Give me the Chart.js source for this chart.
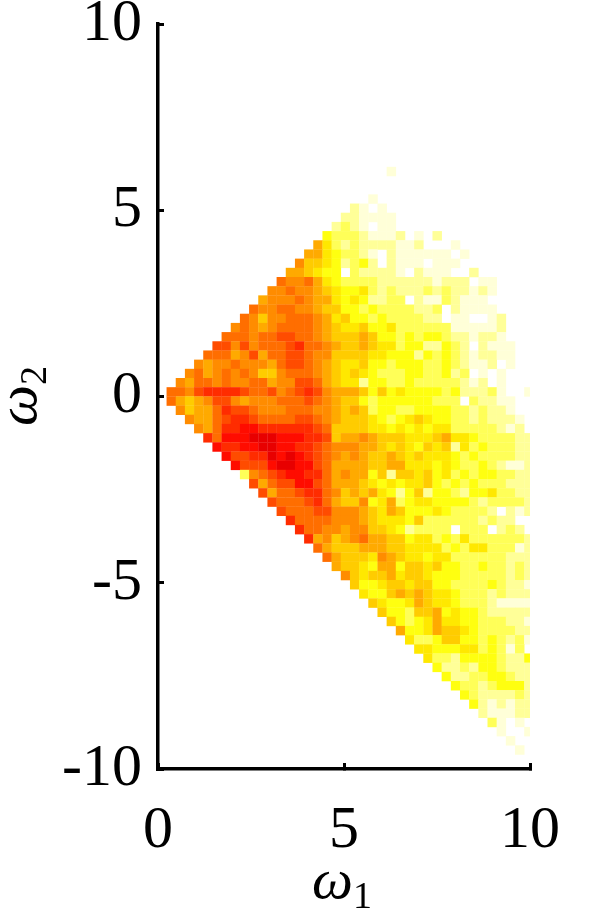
<!DOCTYPE html>
<html>
<head>
<meta charset="utf-8">
<title>Heat map</title>
<script src="https://cdn.jsdelivr.net/npm/chart.js@4/dist/chart.umd.min.js"></script>
<style>
  html, body { margin: 0; padding: 0; background: #fff; }
  canvas { display: block; }
</style>
</head>
<body>
<canvas id="heat-chart" width="598" height="919"></canvas>
<script>
// Axis ticks
const xTicks = [0, 5, 10];
const yTicks = [-10, -5, 0, 5, 10];

// Histogram bins
const binWidth = 0.2465;
const firstBinEdge = 0.234;

// Row number counted from omega2 = 0 (upwards), first occupied column of that row
const rowNumber = [24, 21, 20, 19, 18, 17, 16, 15, 14, 13, 12, 11, 10, 9, 8, 7, 6, 5, 4, 3, 2, 1, 0,
  -1, -2, -3, -4, -5, -6, -7, -8, -9, -10, -11, -12, -13, -14, -15, -16, -17, -18, -19, -20,
  -21, -22, -23, -24, -25, -26, -27, -28, -29, -30, -31, -32, -33, -34, -35, -36, -37, -38, -39];
const rowFirstCol = [24, 22, 20, 19, 18, 17, 16, 15, 14, 13, 12, 11, 10, 9, 8, 7, 6, 5, 4, 3, 2, 1, 0,
  0, 1, 2, 3, 4, 5, 6, 7, 8, 9, 10, 11, 12, 13, 14, 15, 16, 17, 18, 19,
  20, 21, 22, 23, 24, 25, 26, 27, 28, 29, 30, 31, 32, 33, 34, 35, 36, 37, 38];

// Density level of each cell, 0 = empty .. 13 = darkest red
const rowLevels = [
  [1],
  [1],
  [2,1,0,1],
  [2,2,1,1,1,1],
  [2,3,2,1,0,1,1],
  [4,3,3,3,2,1,1,1,2,0,1,0,2],
  [7,5,3,2,3,2,2,2,2,1,1,2,0,0,0,1],
  [7,7,5,4,3,3,2,1,0,2,1,1,1,1,1,1,0,1],
  [8,6,6,5,4,2,3,4,2,0,2,1,1,1,0,1,1,1],
  [7,7,6,5,4,4,0,3,2,2,2,2,1,0,2,1,1,1,0,0,2],
  [9,8,8,9,7,5,4,3,3,3,3,2,2,2,2,2,2,1,2,2,2,0,1,1],
  [8,8,9,8,8,7,6,5,4,4,5,3,2,3,2,2,2,3,2,3,2,2,1,2,1],
  [7,8,8,8,9,8,7,7,5,4,5,4,2,2,3,3,0,2,1,1,3,2,1,1,1],
  [9,8,8,9,9,8,8,7,6,6,4,4,3,4,3,3,3,3,2,2,3,0,2,1,1,1,1],
  [9,8,6,8,8,9,9,9,8,7,5,6,4,4,3,4,3,3,3,3,2,2,0,1,1,0,0,1,2],
  [8,9,8,7,8,9,9,9,9,8,7,6,5,5,6,4,4,5,3,3,3,3,3,3,1,1,1,1,1,2],
  [9,9,9,8,9,9,10,10,9,9,8,7,6,6,6,7,6,4,4,3,4,3,4,4,3,2,2,1,2,2,1,0],
  [10,10,8,10,8,9,9,9,10,11,9,9,8,7,6,6,7,6,5,5,3,4,4,2,2,4,3,2,0,2,1,1,1],
  [9,9,9,7,8,10,7,9,9,10,10,9,8,8,6,6,6,6,5,5,4,4,4,2,4,3,4,3,2,1,2,2,1,1],
  [8,7,8,8,9,8,8,8,7,9,10,10,9,8,7,6,5,5,6,4,4,3,4,4,4,3,3,4,3,2,1,1,2,0,1],
  [8,9,7,8,9,8,9,8,6,6,8,9,9,9,8,7,6,5,6,5,4,3,3,3,4,4,3,3,4,2,3,0,1,0,1,0],
  [8,7,9,9,8,9,8,8,9,9,7,8,8,10,10,9,7,6,5,5,2,4,4,3,3,4,3,3,3,3,3,2,1,2,0,1],
  [9,9,8,10,11,11,11,11,10,9,9,10,8,9,10,11,10,8,7,7,7,6,4,6,4,5,4,4,4,4,3,4,2,2,2,3,1,0,0,1],
  [9,7,6,7,8,10,10,8,7,8,8,8,9,9,9,10,9,8,7,6,6,4,3,4,4,4,4,4,4,3,3,3,0,3,2,2,1,1],
  [8,6,7,7,9,11,10,10,9,8,8,8,9,9,9,8,8,7,6,7,6,3,4,4,3,3,4,4,4,4,3,3,2,3,2,2,1],
  [8,7,7,9,10,11,11,10,9,9,9,9,10,10,9,8,7,6,6,6,5,4,3,4,5,6,5,4,4,3,3,2,3,2,2,2,1,0],
  [8,7,9,11,11,12,12,11,11,11,11,11,11,10,9,6,6,6,6,5,5,4,5,4,5,4,5,5,3,3,3,3,3,2,1,2,0],
  [11,9,12,12,12,13,13,13,12,12,12,11,11,10,6,7,7,8,7,6,6,6,5,5,5,6,7,5,5,4,3,3,3,3,2,2,2],
  [12,11,11,12,12,13,13,12,12,11,11,10,9,8,8,8,7,7,6,5,6,5,4,6,5,6,2,5,3,4,3,3,3,2,2,0],
  [12,10,10,11,11,13,12,13,12,11,10,9,8,7,8,7,6,6,7,6,5,6,5,5,5,4,3,4,3,3,3,3,2,2,1],
  [12,10,10,10,12,13,13,12,12,10,9,7,7,7,7,6,6,7,7,5,5,5,4,5,4,3,3,4,3,2,1,1,2,2],
  [3,8,9,10,11,12,12,11,11,9,7,8,7,7,4,6,2,6,6,5,6,4,5,3,4,3,4,4,3,3,2,2,1],
  [10,7,9,10,10,12,12,10,9,7,7,7,6,5,4,5,4,5,5,6,4,3,4,3,4,3,3,3,2,2,2],
  [10,7,9,9,10,11,11,9,8,6,7,6,7,5,4,2,4,6,2,4,4,3,2,4,4,5,3,3,2,2,2],
  [10,9,9,9,10,11,9,7,6,6,8,4,5,7,3,4,5,5,4,4,4,4,3,2,3,3,3,3,2,2],
  [10,9,9,9,10,10,8,8,8,7,6,5,7,6,4,4,4,5,4,3,3,3,3,2,0,2,1,2,1],
  [11,9,9,9,9,8,8,8,7,6,5,5,5,4,6,3,3,3,3,3,3,2,3,2,2],
  [11,9,9,8,8,7,8,8,6,6,5,4,2,3,3,3,3,0,3,3,3,0,2,3,2],
  [11,7,8,6,7,8,9,7,7,6,6,4,5,5,3,4,3,5,3,3,3,3,3,3,2,2],
  [9,7,6,6,6,7,7,7,6,6,5,5,5,5,3,4,3,5,5,3,3,3,1,2,1],
  [9,7,6,6,6,5,8,7,6,5,5,4,5,5,3,3,3,3,3,3,2,2,2,2],
  [7,6,6,5,4,7,7,4,6,6,5,6,4,4,3,3,4,3,3,2,3,2],
  [8,6,5,6,6,7,5,6,6,5,4,4,4,3,3,3,3,3,2,3,2],
  [6,4,4,5,6,6,5,6,6,4,4,3,3,3,3,4,3,2,2,1],
  [5,4,4,6,7,6,7,6,5,5,4,3,3,3,2,3,2,2,2],
  [6,5,4,4,5,7,6,5,5,4,3,3,3,2,1,1,1,1],
  [6,4,4,3,6,6,7,4,5,4,4,3,2,2,2,2,2],
  [6,4,3,4,5,7,5,5,4,4,3,3,3,2,2,1],
  [7,4,4,5,7,6,6,5,4,3,3,3,3,2,2],
  [5,3,3,4,6,6,4,4,3,4,3,2,3,1],
  [5,5,4,4,4,5,5,3,4,3,1,3,0],
  [5,3,3,2,4,4,4,4,3,2,2,4],
  [4,2,2,3,2,4,4,3,2,2,2],
  [4,2,2,3,3,4,4,3,2,2],
  [4,3,3,2,3,4,4,4,2],
  [4,3,2,2,2,2,3,2],
  [4,2,1,2,1,2,2],
  [2,1,1,1,2,2],
  [3,1,0,1,0],
  [1,0,0,1],
  [1],
  [1]
];

// Level colours: white through yellow and orange to red
const levelColors = ['#ffffff', '#ffffd8', '#ffff98', '#ffff58', '#ffff10', '#ffe800', '#ffcc00',
  '#ffaa00', '#ff8c00', '#ff6e00', '#ff4c00', '#ff2c00', '#ff0c00', '#e80000'];

// Turn the rows into scatter points, one per occupied cell
const cells = [];
rowLevels.forEach(function(levels, r) {
    levels.forEach(function(level, c) {
        if (level === 0) return;
        cells.push({
            x: firstBinEdge + (rowFirstCol[r] + c + 0.5) * binWidth,
            y: (rowNumber[r] + 0.5) * binWidth,
            level: level
        });
    });
});

// Square marker just big enough to fill one bin
function cellRadius(context) {
    const xScale = context.chart.scales.x;
    const side = xScale.getPixelForValue(binWidth) - xScale.getPixelForValue(0);
    return (side + 0.3) * Math.SQRT1_2;
}

function fixedAxisSize(scale) {
    if (scale.isHorizontal()) {
        scale.height = 150;
    } else {
        scale.width = 158;
    }
    scale.paddingLeft = 0;
    scale.paddingRight = 0;
    scale.paddingTop = 0;
    scale.paddingBottom = 0;
}

// Axis names with a subscript
const axisNames = {
    id: 'axisNames',
    afterDraw: function(chart) {
        const ctx = chart.ctx;
        function omega(sub) {
            ctx.textAlign = 'left';
            ctx.textBaseline = 'alphabetic';
            ctx.fillStyle = '#000';
            ctx.font = 'italic 58px "Liberation Serif"';
            ctx.fillText('ω', 0, 0);
            const w = ctx.measureText('ω').width;
            ctx.font = '38px "Liberation Serif"';
            ctx.fillText(sub, w, 10);
        }
        ctx.save();
        ctx.translate(312, 898);
        omega('1');
        ctx.restore();
        ctx.save();
        ctx.translate(36, 426);
        ctx.rotate(-Math.PI / 2);
        omega('2');
        ctx.restore();
    }
};

const tickFont = { family: '"Liberation Serif"', size: 60 };

new Chart(document.getElementById('heat-chart').getContext('2d'), {
    type: 'scatter',
    data: {
        datasets: [{
            data: cells,
            clip: 0,
            pointStyle: 'rect',
            pointRadius: cellRadius,
            pointHoverRadius: cellRadius,
            pointBorderWidth: 0,
            pointBackgroundColor: function(context) {
                const cell = context.raw;
                return cell ? levelColors[cell.level] : '#fff';
            }
        }]
    },
    options: {
        responsive: false,
        animation: false,
        layout: { padding: { top: 24, right: 68, bottom: 0, left: 0 } },
        plugins: {
            legend: { display: false },
            title: { display: false },
            tooltip: { enabled: false }
        },
        scales: {
            x: {
                type: 'linear',
                min: 0,
                max: 10,
                afterFit: fixedAxisSize,
                afterBuildTicks: function(scale) {
                    scale.ticks = xTicks.map(function(v) { return { value: v }; });
                },
                border: { color: '#000', width: 3.5 },
                grid: { drawOnChartArea: false, color: '#000', lineWidth: 3, tickLength: -6 },
                ticks: { color: '#000', font: tickFont, padding: 32, maxRotation: 0, autoSkip: false }
            },
            y: {
                type: 'linear',
                min: -10,
                max: 10,
                afterFit: fixedAxisSize,
                afterBuildTicks: function(scale) {
                    scale.ticks = yTicks.map(function(v) { return { value: v }; });
                },
                border: { color: '#000', width: 3.5 },
                grid: { drawOnChartArea: false, color: '#000', lineWidth: 3, tickLength: -6 },
                ticks: { color: '#000', font: tickFont, padding: 22, autoSkip: false }
            }
        }
    },
    plugins: [axisNames]
});
</script>
</body>
</html>
